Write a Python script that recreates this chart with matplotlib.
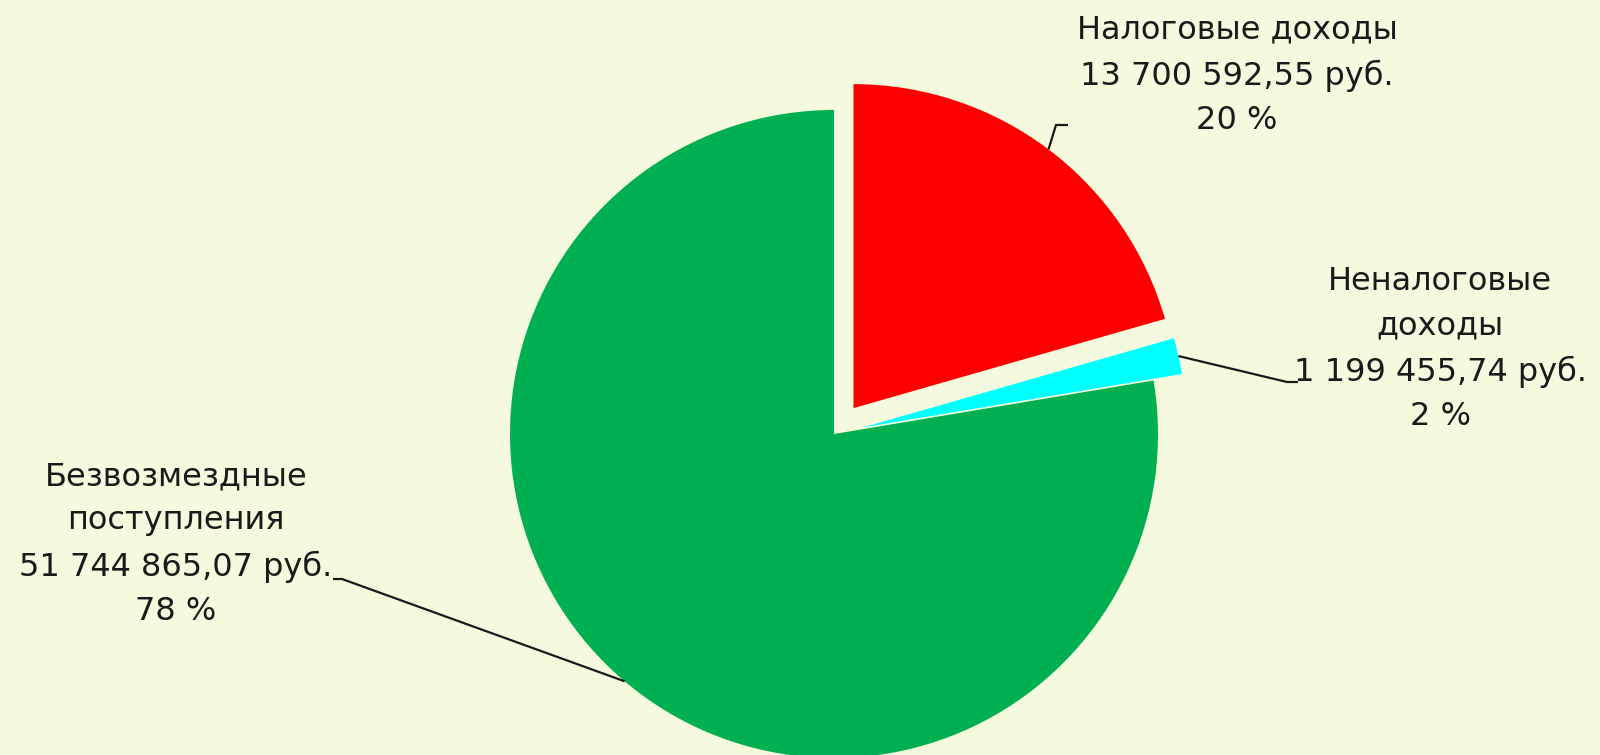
import numpy as np
import matplotlib
matplotlib.use("Agg")
import matplotlib.pyplot as plt

categories = ["Налоговые доходы", "Неналоговые\nдоходы", "Безвозмездные\nпоступления"]
values = [13700592.55, 1199455.74, 51744865.07]
value_labels = ["13 700 592,55 руб.", "1 199 455,74 руб.", "51 744 865,07 руб."]
percent_labels = ["20 %", "2 %", "78 %"]
colors = ["#ff0000", "#00ffff", "#00b050"]
explode = [0.1, 0.09, 0.0]

BG = "#f5f9dd"
W, H = 1600, 755
fig = plt.figure(figsize=(16, 7.55), dpi=100, facecolor=BG)
ax = fig.add_axes([0, 0, 1, 1])
ax.set_facecolor(BG)

R = 324
cx, cy = 834, H - 434
wedges, _ = ax.pie(values, colors=colors, explode=[e * R for e in explode],
                   startangle=90, counterclock=False, radius=R, center=(cx, cy),
                   wedgeprops=dict(linewidth=0))
ax.set_xlim(0, W)
ax.set_ylim(0, H)
ax.set_aspect("equal")
ax.axis("off")

# label positions (centre of text block) and leader elbow points
label_pos = [(1237, H - 75), (1440, H - 349), (176, H - 544)]
elbows = [[(1056, H - 125), (1068, H - 125)],
          [(1287, H - 382), (1298, H - 382)],
          [(342, H - 579), (333, H - 579)]]

for i, w in enumerate(wedges):
    mid = np.deg2rad((w.theta1 + w.theta2) / 2)
    wc = w.center
    sx = wc[0] + w.r * np.cos(mid)
    sy = wc[1] + w.r * np.sin(mid)
    pts = [(sx, sy)] + elbows[i]
    ax.plot([p[0] for p in pts], [p[1] for p in pts], color="#1a1a1a", lw=1.6,
            solid_capstyle="butt")
    txt = f"{categories[i]}\n{value_labels[i]}\n{percent_labels[i]}"
    ax.text(label_pos[i][0], label_pos[i][1], txt, ha="center", va="center",
            fontsize=23, color="#1a1a1a", family="DejaVu Sans", linespacing=1.55)

fig.savefig("out.png", dpi=100, facecolor=BG)
